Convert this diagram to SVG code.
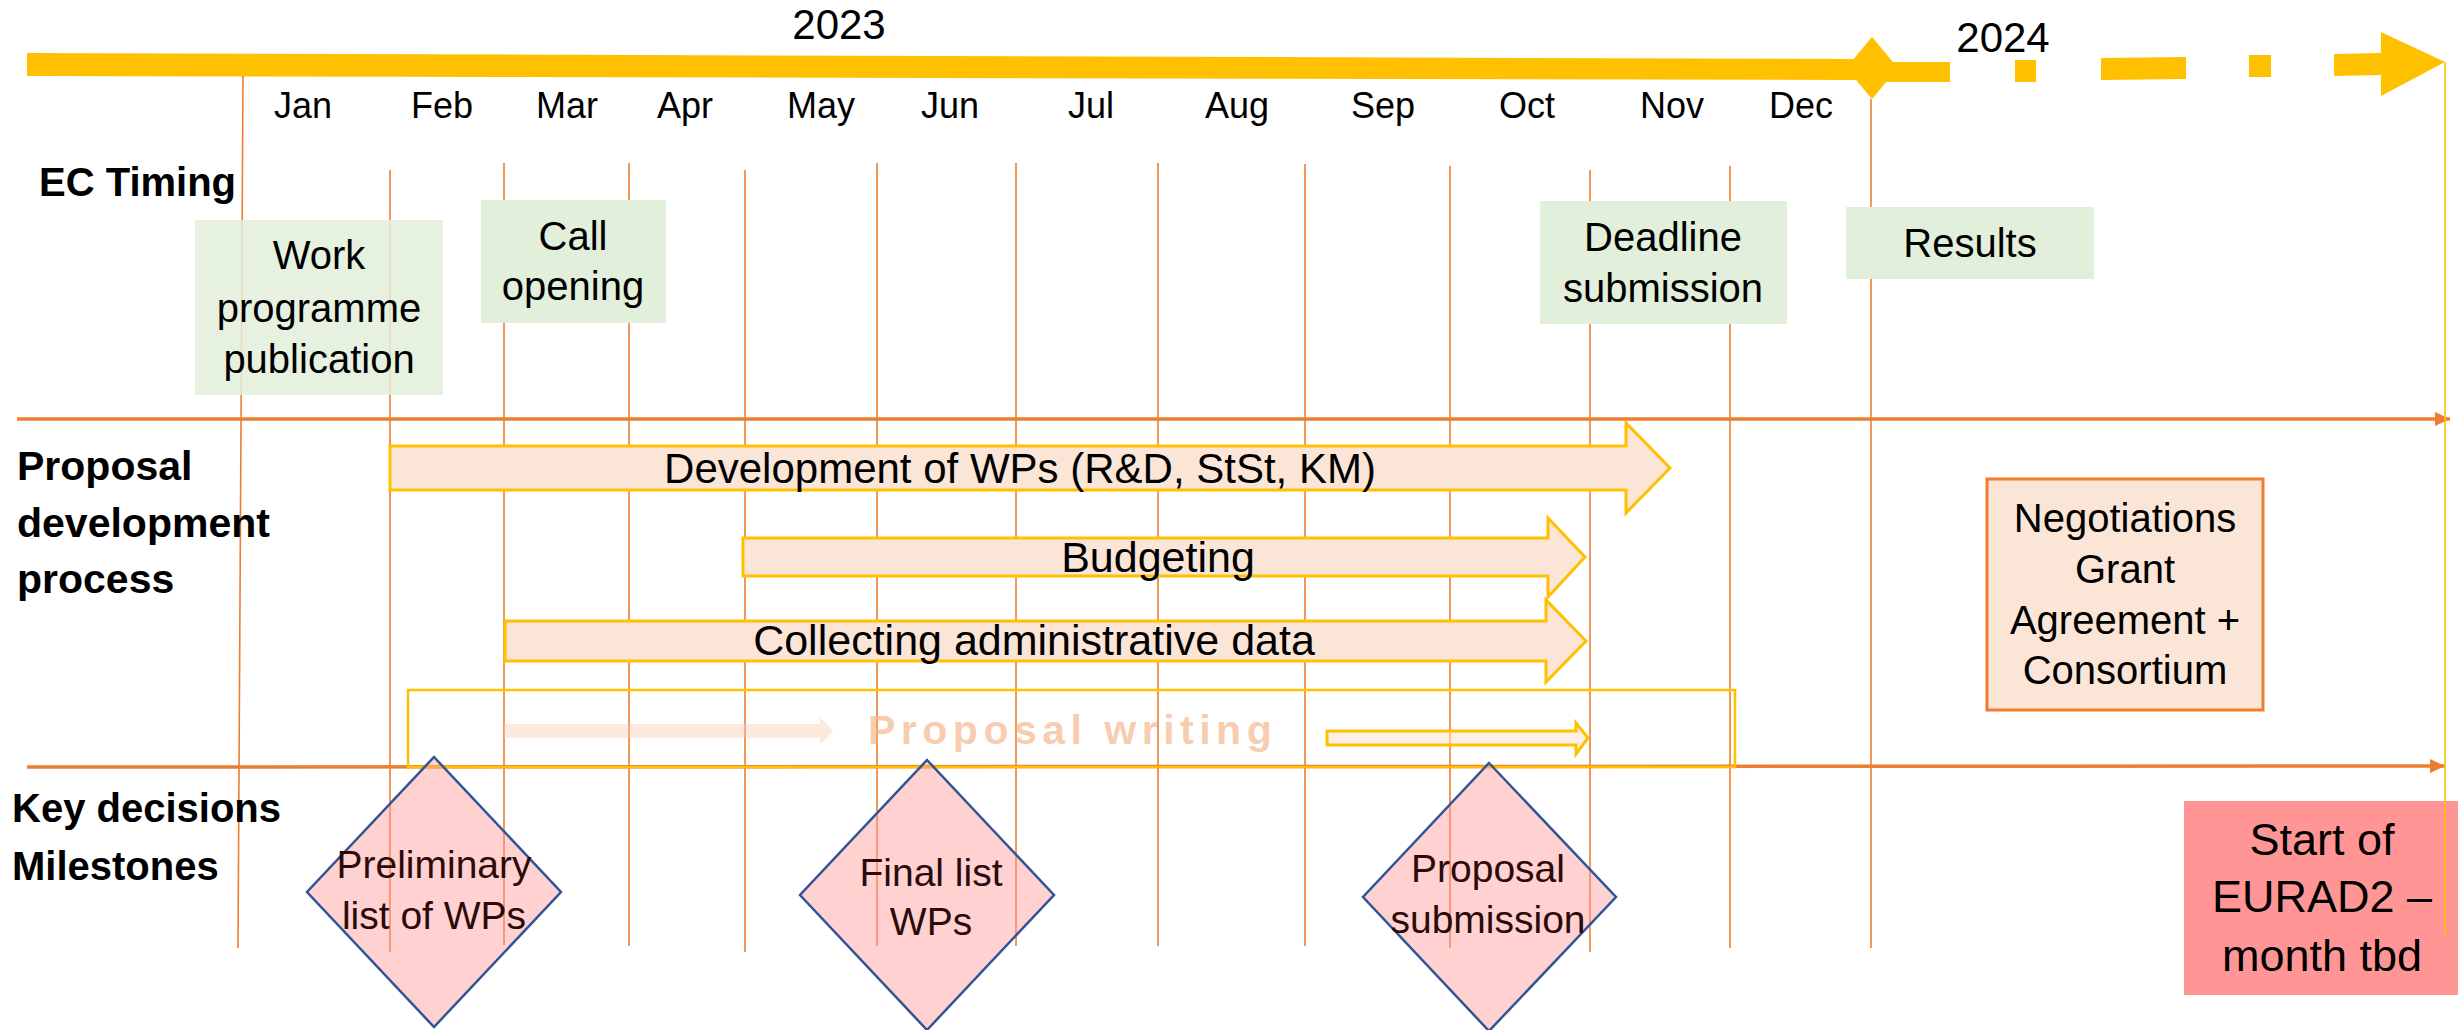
<svg xmlns="http://www.w3.org/2000/svg" width="2458" height="1030" viewBox="0 0 2458 1030">
<style>
text{font-family:"Liberation Sans",Arial,sans-serif;fill:#000}
.lbl{font-weight:bold;font-size:40px}
.mon{font-size:36px;text-anchor:middle}
.yr{font-size:42px;text-anchor:middle}
.ec{font-size:40px;text-anchor:middle}
.ar{font-size:43px;text-anchor:middle}
.dm{font-size:39px;text-anchor:middle;fill:#2B0A0A}
.vl{stroke:#ED7D31;stroke-width:1.6;fill:none}
.ecbox{fill:#E2EFDA}
.parrow{fill:#FBE5D6;stroke:#FFC000;stroke-width:3}
.dia{fill:#FF9999;fill-opacity:0.45;stroke:#2F5597;stroke-width:2.5}
.row{stroke:#ED7D31;stroke-width:3.5;fill:none}
</style>
<defs>
<marker id="oh" markerUnits="userSpaceOnUse" markerWidth="16" markerHeight="16" viewBox="0 0 16 16" refX="15" refY="8" orient="auto">
<path d="M0,1 L15,8 L0,15 z" fill="#ED7D31"/>
</marker>
</defs>

<g id="year-axis">
<polygon points="27,53 1860,59 1860,80 27,76" fill="#FFC000"/>
<polygon points="1872,37 1898,68 1872,99 1846,68" fill="#FFC000"/>
<polygon points="1885,62 1950,62 1950,82 1885,82" fill="#FFC000"/>
<polygon points="2015,60 2036,60 2036,82 2015,82" fill="#FFC000"/>
<polygon points="2101,58 2186,57 2186,79 2101,80" fill="#FFC000"/>
<polygon points="2249,55 2271,55 2271,77 2249,77" fill="#FFC000"/>
<polygon points="2334,54 2381,53 2381,32 2445,62 2381,96 2381,75 2334,76" fill="#FFC000"/>
<text class="yr" x="839" y="39">2023</text>
<text class="yr" x="2003" y="52">2024</text>
</g>

<g id="months">
<text class="mon" x="303" y="118">Jan</text>
<text class="mon" x="442" y="118">Feb</text>
<text class="mon" x="567" y="118">Mar</text>
<text class="mon" x="685" y="118">Apr</text>
<text class="mon" x="821" y="118">May</text>
<text class="mon" x="950" y="118">Jun</text>
<text class="mon" x="1091" y="118">Jul</text>
<text class="mon" x="1237" y="118">Aug</text>
<text class="mon" x="1383" y="118">Sep</text>
<text class="mon" x="1527" y="118">Oct</text>
<text class="mon" x="1672" y="118">Nov</text>
<text class="mon" x="1801" y="118">Dec</text>
</g>

<g id="gridlines">
<line class="vl" x1="243" y1="76" x2="238" y2="948"/>
<line class="vl" x1="390" y1="170" x2="390" y2="952"/>
<line class="vl" x1="504" y1="163" x2="504" y2="945"/>
<line class="vl" x1="629" y1="163" x2="629" y2="946"/>
<line class="vl" x1="745" y1="170" x2="745" y2="952"/>
<line class="vl" x1="877" y1="163" x2="877" y2="946"/>
<line class="vl" x1="1016" y1="163" x2="1016" y2="946"/>
<line class="vl" x1="1158" y1="163" x2="1158" y2="946"/>
<line class="vl" x1="1305" y1="164" x2="1305" y2="946"/>
<line class="vl" x1="1450" y1="166" x2="1450" y2="948"/>
<line class="vl" x1="1590" y1="170" x2="1590" y2="952"/>
<line class="vl" x1="1730" y1="166" x2="1730" y2="948"/>
<line class="vl" x1="1871" y1="99" x2="1871" y2="948"/>
</g>

<g id="row-labels">
<text class="lbl" x="39" y="196">EC Timing</text>
<text class="lbl" x="17" y="480" style="font-size:41px">Proposal</text>
<text class="lbl" x="17" y="537" style="font-size:41px">development</text>
<text class="lbl" x="17" y="593" style="font-size:41px">process</text>
<text class="lbl" x="12" y="822">Key decisions</text>
<text class="lbl" x="12" y="880">Milestones</text>
</g>

<g id="ec-work-programme">
<rect class="ecbox" x="195" y="220" width="248" height="175" opacity="0.85"/>
<text class="ec" x="319" y="269">Work</text>
<text class="ec" x="319" y="322">programme</text>
<text class="ec" x="319" y="373">publication</text>
</g>
<g id="ec-call-opening">
<rect class="ecbox" x="481" y="200" width="185" height="123"/>
<text class="ec" x="573" y="250">Call</text>
<text class="ec" x="573" y="300">opening</text>
</g>
<g id="ec-deadline">
<rect class="ecbox" x="1540" y="201" width="247" height="123"/>
<text class="ec" x="1663" y="251">Deadline</text>
<text class="ec" x="1663" y="302">submission</text>
</g>
<g id="ec-results">
<rect class="ecbox" x="1846" y="207" width="248" height="72"/>
<text class="ec" x="1970" y="257">Results</text>
</g>

<g id="connectors">
<line class="row" x1="17" y1="419" x2="2450" y2="419" marker-end="url(#oh)"/>
<line class="row" x1="27" y1="767" x2="2445" y2="766" marker-end="url(#oh)"/>
</g>

<g id="development-wps">
<polygon class="parrow" points="390,446 1626,446 1626,423 1670,468 1626,513 1626,490 390,490"/>
<text class="ar" x="1020" y="483" style="font-size:42px">Development of WPs (R&amp;D, StSt, KM)</text>
</g>
<g id="budgeting">
<polygon class="parrow" points="743,538 1548,538 1548,518 1585,557 1548,597 1548,576 743,576"/>
<text class="ar" x="1158" y="572">Budgeting</text>
</g>
<g id="collecting-data">
<polygon class="parrow" points="505,621 1546,621 1546,600 1586,641 1546,682 1546,661 505,661"/>
<text class="ar" x="1034" y="655">Collecting administrative data</text>
</g>

<g id="proposal-writing">
<rect x="408" y="690" width="1327" height="77" fill="none" stroke="#FFC000" stroke-width="2.5"/>
<polygon points="504,724 820,724 820,717 833,731 820,745 820,738 504,738" fill="#F8CBAD" fill-opacity="0.4"/>
<text x="868" y="744" style="font-weight:bold;font-size:41px;letter-spacing:5.5px;fill:#F5B58A;fill-opacity:0.7">Proposal writing</text>
<polygon points="1327,731 1576,731 1576,723 1588,738 1576,754 1576,745 1327,745" fill="#FBE5D6" fill-opacity="0.6" stroke="#FFC000" stroke-width="3"/>
</g>

<g id="negotiations">
<rect x="1987" y="479" width="276" height="231" fill="#FBE5D6" stroke="#ED7D31" stroke-width="3"/>
<text class="ec" x="2125" y="532">Negotiations</text>
<text class="ec" x="2125" y="583">Grant</text>
<text class="ec" x="2125" y="634">Agreement +</text>
<text class="ec" x="2125" y="684">Consortium</text>
</g>

<g id="milestone-preliminary">
<polygon class="dia" points="434,757 561,892 434,1027 307,892"/>
<text class="dm" x="434" y="878">Preliminary</text>
<text class="dm" x="434" y="929">list of WPs</text>
</g>
<g id="milestone-final">
<polygon class="dia" points="927,760 1054,895 927,1030 800,895"/>
<text class="dm" x="931" y="886">Final list</text>
<text class="dm" x="931" y="935">WPs</text>
</g>
<g id="milestone-submission">
<polygon class="dia" points="1489,763 1616,897 1489,1031 1363,897"/>
<text class="dm" x="1488" y="882">Proposal</text>
<text class="dm" x="1488" y="933">submission</text>
</g>

<g id="start-eurad2">
<rect x="2184" y="801" width="274" height="194" fill="#FF9595"/>
<text class="ec" x="2322" y="855" style="font-size:45px">Start of</text>
<text class="ec" x="2322" y="912" style="font-size:45px">EURAD2 –</text>
<text class="ec" x="2322" y="971" style="font-size:45px">month tbd</text>
</g>

<g id="end-line">
<line x1="2445" y1="62" x2="2445" y2="935" stroke="#FFC000" stroke-width="1.6"/>
</g>
</svg>
